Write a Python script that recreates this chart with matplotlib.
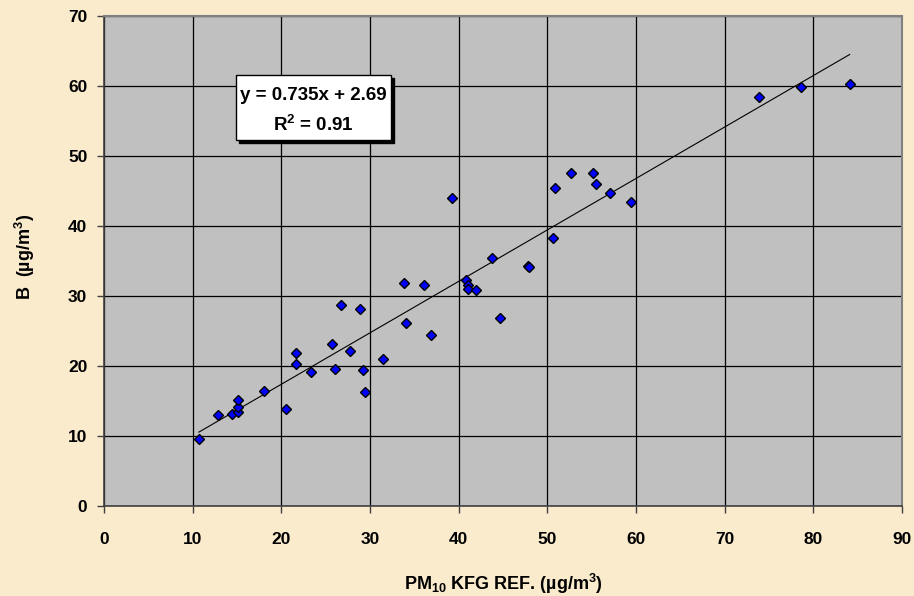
import matplotlib
matplotlib.use("Agg")
import matplotlib.pyplot as plt
from matplotlib.patches import Rectangle
import numpy as np

plt.rcParams['font.family'] = ['Liberation Sans', 'DejaVu Sans']
plt.rcParams['font.weight'] = 'bold'
plt.rcParams['mathtext.default'] = 'regular'

# Data
x_ref = [10.7, 12.9, 14.4, 15.1, 15.1, 15.1, 18.0, 20.5, 21.7, 21.7,
         23.3, 25.7, 26.1, 26.7, 27.7, 28.9, 29.2, 29.4, 31.5, 33.8,
         34.1, 36.1, 36.9, 39.3, 40.8, 41.1, 41.1, 41.9, 43.8, 44.7,
         47.8, 47.9, 50.6, 50.9, 52.7, 55.2, 55.5, 57.1, 59.4, 73.9,
         78.6, 84.1]
y_b = [9.6, 13.0, 13.1, 13.5, 14.1, 15.2, 16.4, 13.8, 20.3, 21.9,
       19.1, 23.2, 19.6, 28.7, 22.2, 28.2, 19.5, 16.3, 21.0, 31.9,
       26.1, 31.6, 24.4, 44.0, 32.3, 31.6, 31.0, 30.9, 35.5, 26.9,
       34.3, 34.2, 38.3, 45.5, 47.6, 47.6, 46.0, 44.7, 43.5, 58.4,
       59.9, 60.3]
slope = 0.735
intercept = 2.69
r2 = 0.91
x_ticks = [0, 10, 20, 30, 40, 50, 60, 70, 80, 90]
y_ticks = [0, 10, 20, 30, 40, 50, 60, 70]

bg = '#FAEBCD'
fig = plt.figure(figsize=(9.14, 5.96), dpi=100, facecolor=bg)
ax = fig.add_axes([104/914, 90/596, 798/914, 490/596])
ax.set_facecolor('#C0C0C0')

ax.set_xlim(0, 90)
ax.set_ylim(0, 70)
ax.set_xticks(x_ticks)
ax.set_yticks(y_ticks)
ax.grid(True, color='#000000', linewidth=0.9, zorder=1)
ax.set_axisbelow(True)

for s in ['top', 'right']:
    ax.spines[s].set_color('#808080')
    ax.spines[s].set_linewidth(1.5)
for s in ['left', 'bottom']:
    ax.spines[s].set_color('#404040')
    ax.spines[s].set_linewidth(1.2)

ax.tick_params(axis='x', length=5, width=1, color='#404040', pad=14, labelsize=12.5)
ax.tick_params(axis='y', length=5, width=1, color='#404040', pad=7, labelsize=12.5)
for lab in ax.get_xticklabels() + ax.get_yticklabels():
    lab.set_fontweight('bold')

# trend line over data range
xs = np.array([min(x_ref), max(x_ref)])
ax.plot(xs, slope * xs + intercept, color='black', linewidth=0.8, zorder=3)

ax.plot(x_ref, y_b, linestyle='none', marker='D', markersize=5.5,
        markerfacecolor='#0000FF', markeredgecolor='black', markeredgewidth=1.0, zorder=4)

# Equation box with shadow
bx0, bx1 = 14.85, 32.33
by0, by1 = 52.3, 61.6
ax.add_patch(Rectangle((bx0 + 0.35, by0 - 0.45), bx1 - bx0, by1 - by0,
                       facecolor='black', edgecolor='black', zorder=5))
ax.add_patch(Rectangle((bx0, by0), bx1 - bx0, by1 - by0,
                       facecolor='white', edgecolor='black', linewidth=1.0, zorder=6))
cx = (bx0 + bx1) / 2
ax.text(cx, 58.6, f'y = {slope}x + {intercept}', ha='center', va='center',
        fontsize=13.5, fontweight='bold', zorder=7)
ax.text(cx, 54.5, f'R$^2$ = {r2}', ha='center', va='center',
        fontsize=13.5, fontweight='bold', zorder=7)

ax.set_xlabel('PM$_{10}$ KFG REF. (µg/m$^3$)', fontsize=13, fontweight='bold', va='center')
ax.xaxis.set_label_coords(0.5, (506 - 584) / 490)
ax.set_ylabel('B  (µg/m$^3$)', fontsize=13, fontweight='bold', va='center')
ax.yaxis.set_label_coords((25 - 104) / 798, (506 - 257) / 490)

fig.savefig('out.png', dpi=100, facecolor=bg)
